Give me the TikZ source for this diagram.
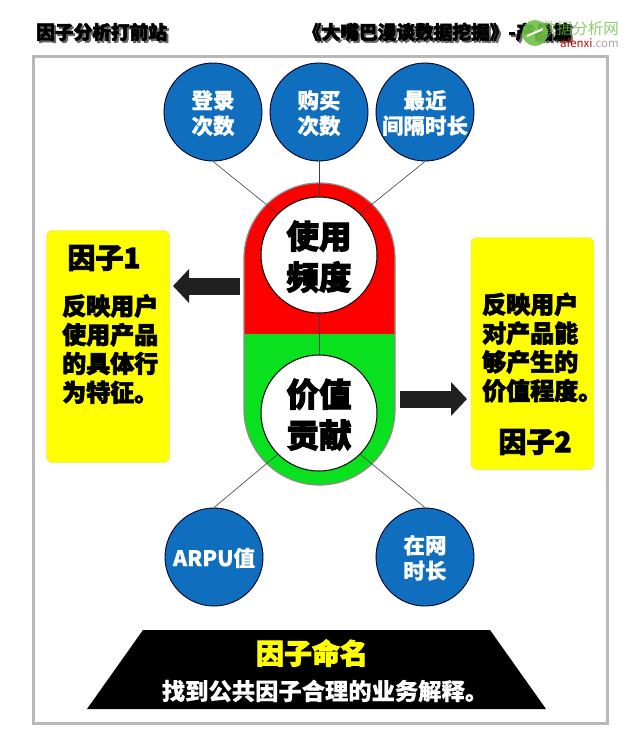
\documentclass[tikz,border=0pt]{standalone}
\usepackage{fontspec}
\setmainfont{Noto Sans CJK SC}[BoldFeatures={FakeBold=.5}]
\newfontfamily\heavyfont{Noto Sans CJK SC}[BoldFeatures={FakeBold=3}]
\usetikzlibrary{arrows.meta}
\definecolor{discblue}{RGB}{15,110,190}
\definecolor{pillgreen}{RGB}{10,225,30}
\definecolor{pillred}{RGB}{255,0,0}
\definecolor{boxyellow}{RGB}{255,255,0}
\definecolor{boxedge}{RGB}{225,215,90}
\definecolor{arrowblack}{RGB}{32,32,32}
\definecolor{logogreen}{RGB}{110,195,70}
\newcommand{\dropped}[1]{\rlap{\hspace{2pt}\raisebox{-2pt}{\color{black!60}#1}}#1}
\tikzset{
  bluedisc/.style={circle,draw=black!85!blue,fill=discblue,text=white,minimum size=98pt,inner sep=0pt,line width=.9pt,align=center,text depth=-3pt,font=\fontsize{21.5}{25.5}\selectfont\bfseries},
  whitedisc/.style={circle,draw=black,fill=white,minimum size=116pt,inner sep=0pt,line width=1pt,align=center,text depth=-6pt,font=\fontsize{32.5}{41}\selectfont\heavyfont\bfseries},
  factorbox/.style={rectangle,rounded corners=6pt,draw=boxedge,fill=boxyellow,minimum width=123pt,minimum height=232pt},
  factorname/.style={inner sep=0pt,font=\fontsize{28}{30}\selectfont\heavyfont\bfseries},
  factortext/.style={anchor=west,inner sep=0pt,align=left,font=\fontsize{24}{28.8}\selectfont\heavyfont\bfseries},
  headtext/.style={inner sep=0pt,font=\fontsize{18.7}{20}\selectfont\heavyfont\bfseries},
  link/.style={draw=black!75,line width=.6pt},
  blockarrow/.style={arrowblack,line width=17pt,-{Triangle[length=16pt,width=33pt]}}
}
\begin{document}
\begin{tikzpicture}[x=1pt,y=-1pt]
\useasboundingbox (0,0) rectangle (640,739);
\fill[white] (0,0) rectangle (640,739);
% heading
\draw (36,33) node[headtext,anchor=west] (head1) {\dropped{因子分析打前站}};
\draw (572,33) node[headtext,anchor=east] (head2) {\dropped{《大嘴巴漫谈数据挖掘》-产品篇}};
% site mark
\fill[logogreen,opacity=.9] (535,33) circle (13);
\draw[white,line width=2pt] (527,36) -- (543,29);
\draw (619,29) node[anchor=east,inner sep=0pt,text=logogreen,opacity=.8,font=\fontsize{15.5}{18}\selectfont] (mark1) {数据分析网};
\draw (619,43) node[anchor=east,inner sep=0pt,font=\fontsize{11.5}{14}\selectfont] (mark2) {\textcolor{red!80!black}{afenxi}\textcolor{black!35}{.com}};
% frame
\draw[black!28,line width=3pt] (33,56) rectangle (607,723);
% pill
\fill[pillred] (244,334) -- (244,258.5) arc[start angle=180,end angle=360,radius=75.5] -- (395,334) -- cycle;
\fill[pillgreen] (244,334) -- (244,409.5) arc[start angle=180,end angle=0,radius=75.5] -- (395,334) -- cycle;
\draw[black!45,line width=1.2pt] (244,258.5) arc[start angle=180,end angle=360,radius=75.5] -- (395,409.5) arc[start angle=0,end angle=180,radius=75.5] -- cycle;
% discs
\draw (319,255) node[whitedisc] (use) {使用\\频度};
\draw (319,413) node[whitedisc] (value) {价值\\贡献};
\draw (213,112) node[bluedisc] (login) {登录\\次数};
\draw (319,112) node[bluedisc] (buy) {购买\\次数};
\draw (425,112) node[bluedisc] (recent) {最近\\间隔时长};
\draw (214,557) node[bluedisc] (arpu) {ARPU值};
\draw (425,557) node[bluedisc] (online) {在网\\时长};
% links
\draw[link] (login.south) -- (use.135);
\draw[link] (buy.south) -- (use.north);
\draw[link] (recent.south) -- (use.45);
\draw[link] (use.south) -- (value.north);
\draw[link] (arpu.north) -- (value.225);
\draw[link] (online.north) -- (value.-45);
% factor boxes
\draw (108,346.5) node[factorbox] (fac1) {};
\draw (532.5,353.5) node[factorbox] (fac2) {};
\draw (104,258) node[factorname] (name1) {因子1};
\draw (62,349) node[factortext] (text1) {反映用户\\使用产品\\的具体行\\为特征。};
\draw (482,347.5) node[factortext] (text2) {反映用户\\对产品能\\够产生的\\价值程度。};
\draw (535,442) node[factorname] (name2) {因子2};
% arrows
\coordinate (out1) at (240,286);
\coordinate (tip1) at (173,286);
\coordinate (out2) at (400,399);
\coordinate (tip2) at (467,399);
\draw[blockarrow] (out1) -- (tip1);
\draw[blockarrow] (out2) -- (tip2);
% naming band
\fill[black] (143,630) -- (490,630) -- (546,709) -- (87,709) -- cycle;
\draw (312,653) node[inner sep=0pt,text=boxyellow,font=\fontsize{28}{30}\selectfont\heavyfont\bfseries] (title) {因子命名};
\draw (325,691) node[inner sep=0pt,text=white,font=\fontsize{23.3}{26}\selectfont\bfseries] (note) {找到公共因子合理的业务解释。};
\end{tikzpicture}
\end{document}
